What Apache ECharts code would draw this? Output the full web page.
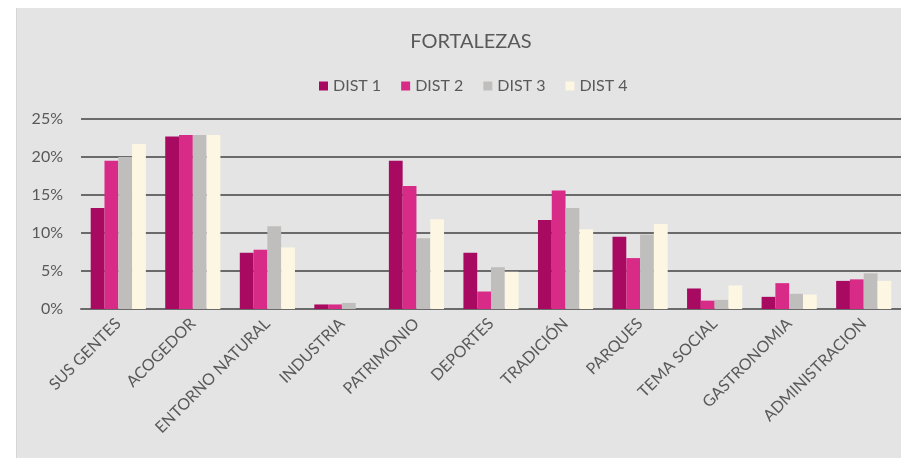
<!DOCTYPE html>
<html>
<head>
<meta charset="utf-8">
<script src="https://cdn.jsdelivr.net/npm/echarts@6/dist/echarts.min.js"></script>
<style>
  html, body { margin: 0; padding: 0; background: #ffffff; }
  #chart {
    position: absolute; left: 16px; top: 8px; width: 885px; height: 450px;
    background: #e4e4e4; border-left: 1px solid #d6d6d6; box-sizing: border-box;
  }
</style>
</head>
<body>
<div id="chart"></div>
<script>
let categories = ['SUS GENTES', 'ACOGEDOR', 'ENTORNO NATURAL', 'INDUSTRIA', 'PATRIMONIO', 'DEPORTES',
  'TRADICIÓN', 'PARQUES', 'TEMA SOCIAL', 'GASTRONOMIA', 'ADMINISTRACION'];
let dist1 = [13.3, 22.7, 7.4, 0.6, 19.5, 7.4, 11.7, 9.5, 2.7, 1.6, 3.7];
let dist2 = [19.5, 22.9, 7.8, 0.6, 16.2, 2.3, 15.6, 6.7, 1.1, 3.4, 3.9];
let dist3 = [20.0, 22.9, 10.9, 0.8, 9.3, 5.5, 13.3, 9.8, 1.2, 2.0, 4.7];
let dist4 = [21.7, 22.9, 8.1, 0, 11.8, 4.9, 10.5, 11.2, 3.1, 1.9, 3.7];
let seriesNames = ['DIST 1', 'DIST 2', 'DIST 3', 'DIST 4'];
let colors = ['#a80a62', '#d82b87', '#bfbebc', '#fcf6e2'];

let chart = echarts.init(document.getElementById('chart'));
let textColor = '#595959';
let font = 'Lato, "Open Sans", sans-serif';

let series = [dist1, dist2, dist3, dist4].map(function (d, i) {
    return {
        name: seriesNames[i],
        type: 'bar',
        data: d,
        barGap: '0%',
        barCategoryGap: '26%',
        itemStyle: { color: colors[i] }
    };
});

chart.setOption({
    animation: false,
    title: {
        text: 'FORTALEZAS',
        left: 449, top: 19, textAlign: 'center',
        textStyle: { color: textColor, fontSize: 20, fontWeight: 'normal', fontFamily: font }
    },
    legend: {
        top: 65, left: 297,
        itemWidth: 9, itemHeight: 9, itemGap: 20,
        icon: 'rect',
        textStyle: { color: textColor, fontSize: 16, fontFamily: font }
    },
    grid: { left: 64, right: -2, top: 111, bottom: 149 },
    xAxis: {
        type: 'category',
        data: categories,
        axisTick: { show: false },
        axisLine: { lineStyle: { color: '#6a6a6a', width: 2 } },
        axisLabel: {
            rotate: 45, color: textColor, fontSize: 16, fontFamily: font,
            interval: 0, margin: 12
        }
    },
    yAxis: {
        type: 'value',
        min: 0, max: 25, interval: 5,
        axisLine: { show: false },
        axisTick: { show: false },
        splitLine: { lineStyle: { color: '#6a6a6a', width: 2 } },
        axisLabel: {
            formatter: '{value}%', color: textColor, fontSize: 16, fontFamily: font, margin: 18
        }
    },
    series: series
});
</script>
</body>
</html>
